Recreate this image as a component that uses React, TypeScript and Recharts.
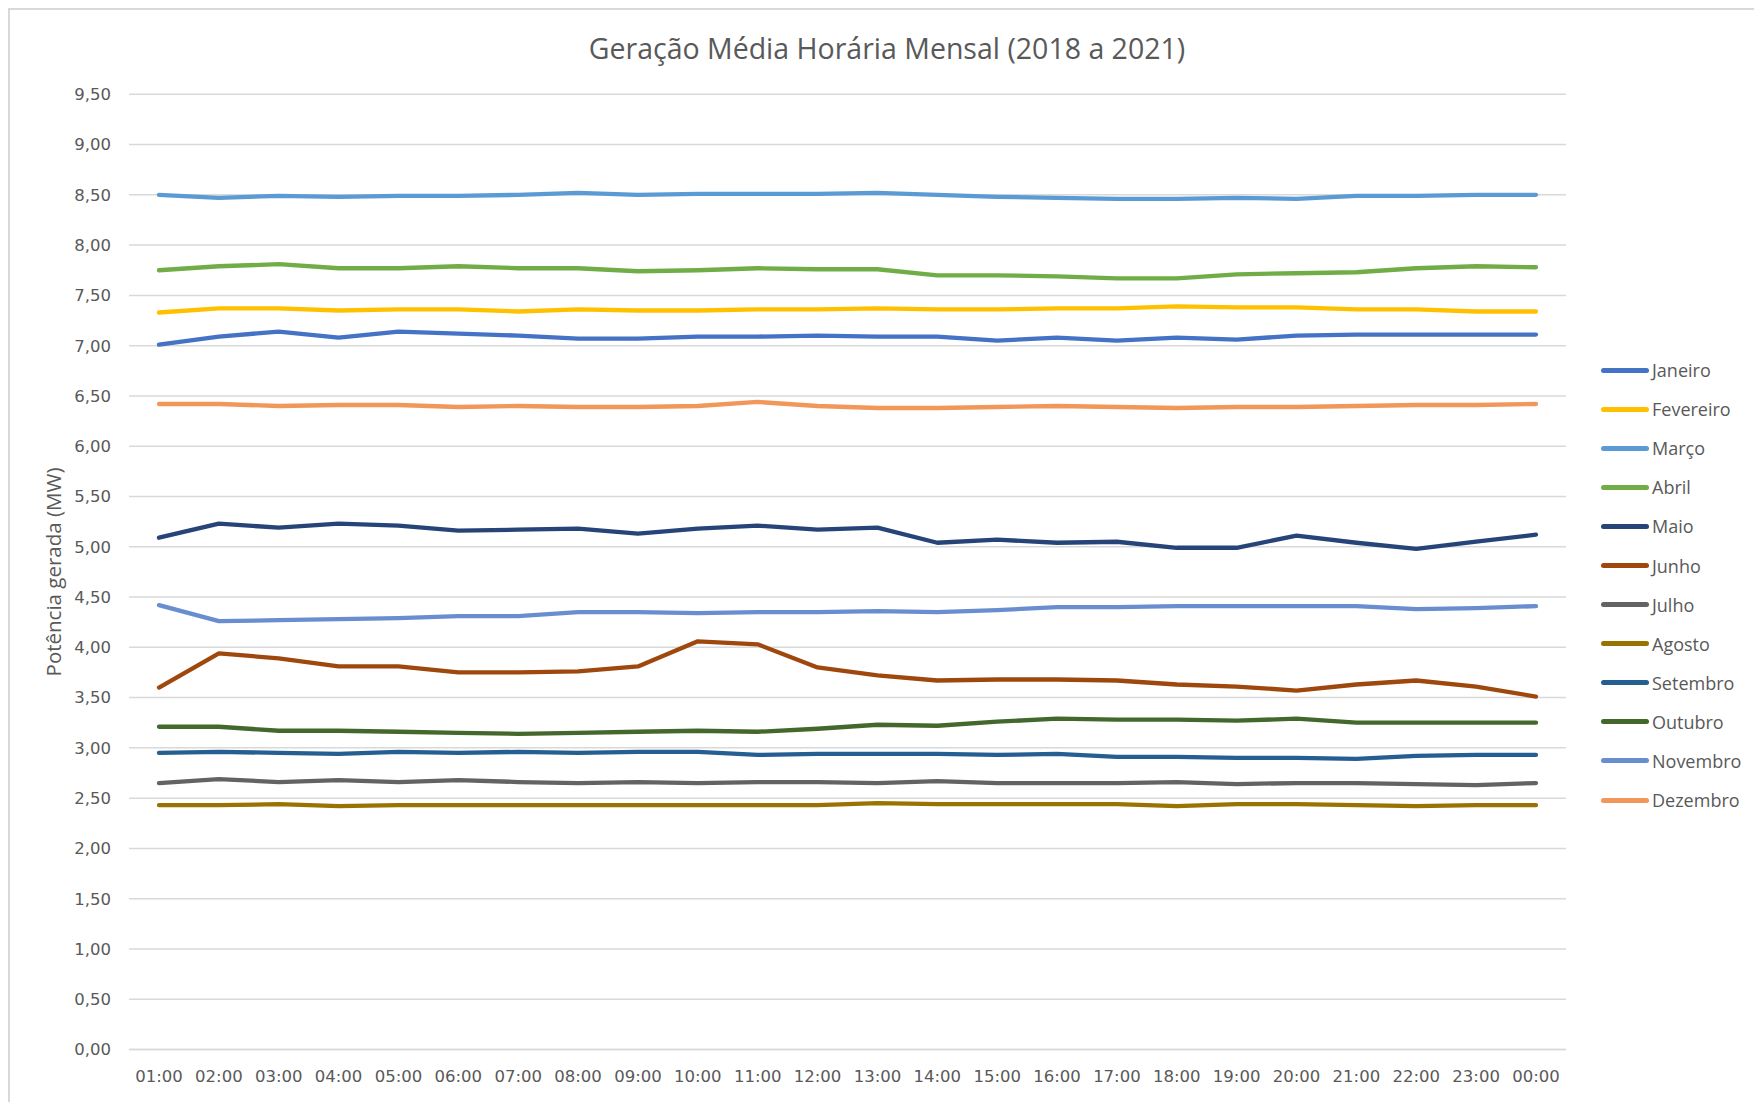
import React from 'react';
import { LineChart, Line, XAxis, YAxis, CartesianGrid, Legend } from 'recharts';

const hours = ['01:00','02:00','03:00','04:00','05:00','06:00','07:00','08:00','09:00','10:00','11:00','12:00','13:00','14:00','15:00','16:00','17:00','18:00','19:00','20:00','21:00','22:00','23:00','00:00'];

const janeiro = [7.01,7.09,7.14,7.08,7.14,7.12,7.10,7.07,7.07,7.09,7.09,7.10,7.09,7.09,7.05,7.08,7.05,7.08,7.06,7.10,7.11,7.11,7.11,7.11];
const fevereiro = [7.33,7.37,7.37,7.35,7.36,7.36,7.34,7.36,7.35,7.35,7.36,7.36,7.37,7.36,7.36,7.37,7.37,7.39,7.38,7.38,7.36,7.36,7.34,7.34];
const marco = [8.50,8.47,8.49,8.48,8.49,8.49,8.50,8.52,8.50,8.51,8.51,8.51,8.52,8.50,8.48,8.47,8.46,8.46,8.47,8.46,8.49,8.49,8.50,8.50];
const abril = [7.75,7.79,7.81,7.77,7.77,7.79,7.77,7.77,7.74,7.75,7.77,7.76,7.76,7.70,7.70,7.69,7.67,7.67,7.71,7.72,7.73,7.77,7.79,7.78];
const maio = [5.09,5.23,5.19,5.23,5.21,5.16,5.17,5.18,5.13,5.18,5.21,5.17,5.19,5.04,5.07,5.04,5.05,4.99,4.99,5.11,5.04,4.98,5.05,5.12];
const junho = [3.60,3.94,3.89,3.81,3.81,3.75,3.75,3.76,3.81,4.06,4.03,3.80,3.72,3.67,3.68,3.68,3.67,3.63,3.61,3.57,3.63,3.67,3.61,3.51];
const julho = [2.65,2.69,2.66,2.68,2.66,2.68,2.66,2.65,2.66,2.65,2.66,2.66,2.65,2.67,2.65,2.65,2.65,2.66,2.64,2.65,2.65,2.64,2.63,2.65];
const agosto = [2.43,2.43,2.44,2.42,2.43,2.43,2.43,2.43,2.43,2.43,2.43,2.43,2.45,2.44,2.44,2.44,2.44,2.42,2.44,2.44,2.43,2.42,2.43,2.43];
const setembro = [2.95,2.96,2.95,2.94,2.96,2.95,2.96,2.95,2.96,2.96,2.93,2.94,2.94,2.94,2.93,2.94,2.91,2.91,2.90,2.90,2.89,2.92,2.93,2.93];
const outubro = [3.21,3.21,3.17,3.17,3.16,3.15,3.14,3.15,3.16,3.17,3.16,3.19,3.23,3.22,3.26,3.29,3.28,3.28,3.27,3.29,3.25,3.25,3.25,3.25];
const novembro = [4.42,4.26,4.27,4.28,4.29,4.31,4.31,4.35,4.35,4.34,4.35,4.35,4.36,4.35,4.37,4.40,4.40,4.41,4.41,4.41,4.41,4.38,4.39,4.41];
const dezembro = [6.42,6.42,6.40,6.41,6.41,6.39,6.40,6.39,6.39,6.40,6.44,6.40,6.38,6.38,6.39,6.40,6.39,6.38,6.39,6.39,6.40,6.41,6.41,6.42];

const yTicks = [0,0.5,1,1.5,2,2.5,3,3.5,4,4.5,5,5.5,6,6.5,7,7.5,8,8.5,9,9.5];

const seriesDefs = [
  { key: 'Janeiro', values: janeiro, color: '#4472C4' },
  { key: 'Fevereiro', values: fevereiro, color: '#FFC000' },
  { key: 'Março', values: marco, color: '#5B9BD5' },
  { key: 'Abril', values: abril, color: '#70AD47' },
  { key: 'Maio', values: maio, color: '#264478' },
  { key: 'Junho', values: junho, color: '#9E480E' },
  { key: 'Julho', values: julho, color: '#636363' },
  { key: 'Agosto', values: agosto, color: '#997300' },
  { key: 'Setembro', values: setembro, color: '#255E91' },
  { key: 'Outubro', values: outubro, color: '#43682B' },
  { key: 'Novembro', values: novembro, color: '#698ED0' },
  { key: 'Dezembro', values: dezembro, color: '#F1975A' },
];

const data = hours.map((h, i) => {
  const row: any = { hour: h };
  seriesDefs.forEach((s) => { row[s.key] = s.values[i]; });
  return row;
});

const TEXT = '#595959';
const fmt = (v: number) => v.toFixed(2).replace('.', ',');

const LegendContent = () => (
  <div style={{ fontFamily: '"Open Sans", sans-serif', fontSize: 18, color: TEXT }}>
    {seriesDefs.map((s) => (
      <div key={s.key} style={{ display: 'flex', alignItems: 'center', height: 39.1 }}>
        <div style={{ width: 48, height: 5, borderRadius: 3, background: s.color, marginRight: 3 }} />
        <span style={{ lineHeight: '20px' }}>{s.key}</span>
      </div>
    ))}
  </div>
);

export default function App() {
  return (
    <div style={{ position: 'relative', width: 1754, height: 1094, boxSizing: 'border-box', borderLeft: '2px solid #d9d9d9', borderTop: '2px solid #d9d9d9', overflow: 'hidden', background: '#fff' }}>
      <div style={{ position: 'absolute', left: 0, top: 19, width: 1754, textAlign: 'center', fontFamily: '"Open Sans", sans-serif', fontSize: 28.5, color: TEXT, whiteSpace: 'nowrap' }}>
        Geração Média Horária Mensal (2018 a 2021)
      </div>
      <div style={{ position: 'absolute', left: 43 - 150, top: 562 - 14, width: 300, height: 28, lineHeight: '28px', textAlign: 'center', transform: 'rotate(-90deg)', fontFamily: '"Open Sans", sans-serif', fontSize: 20.5, color: TEXT, whiteSpace: 'nowrap' }}>
        Potência gerada (MW)
      </div>
      <div style={{ position: 'absolute', left: 0, top: 0 }}>
        <LineChart width={1752} height={1092} data={data} margin={{ top: 84.3, right: 196, bottom: 22.5, left: 0 }}>
          <CartesianGrid vertical={false} stroke="#d9d9d9" strokeWidth={1.5} />
          <XAxis dataKey="hour" padding={{ left: 30, right: 30 }} axisLine={{ stroke: '#d9d9d9', strokeWidth: 1.5 }} tickLine={false} tickSize={0} tickMargin={21} height={30} interval={0}
            tick={{ fill: TEXT, fontSize: 16.5, fontFamily: '"DejaVu Sans", sans-serif' }} />
          <YAxis domain={[0, 9.5]} ticks={yTicks} tickFormatter={fmt} axisLine={false} tickLine={false} tickSize={0} tickMargin={18} width={119} interval={0}
            tick={{ fill: TEXT, fontSize: 16.5, fontFamily: '"DejaVu Sans", sans-serif' }} />
          <Legend layout="vertical" align="center" verticalAlign="middle" content={<LegendContent />}
            wrapperStyle={{ position: 'absolute', left: 1591, top: 340.5, width: 170 }} />
          {seriesDefs.map((s) => (
            <Line key={s.key} type="linear" dataKey={s.key} stroke={s.color} strokeWidth={4.3} dot={false} activeDot={false}
              strokeLinecap="round" strokeLinejoin="round" isAnimationActive={false} />
          ))}
        </LineChart>
      </div>
    </div>
  );
}
